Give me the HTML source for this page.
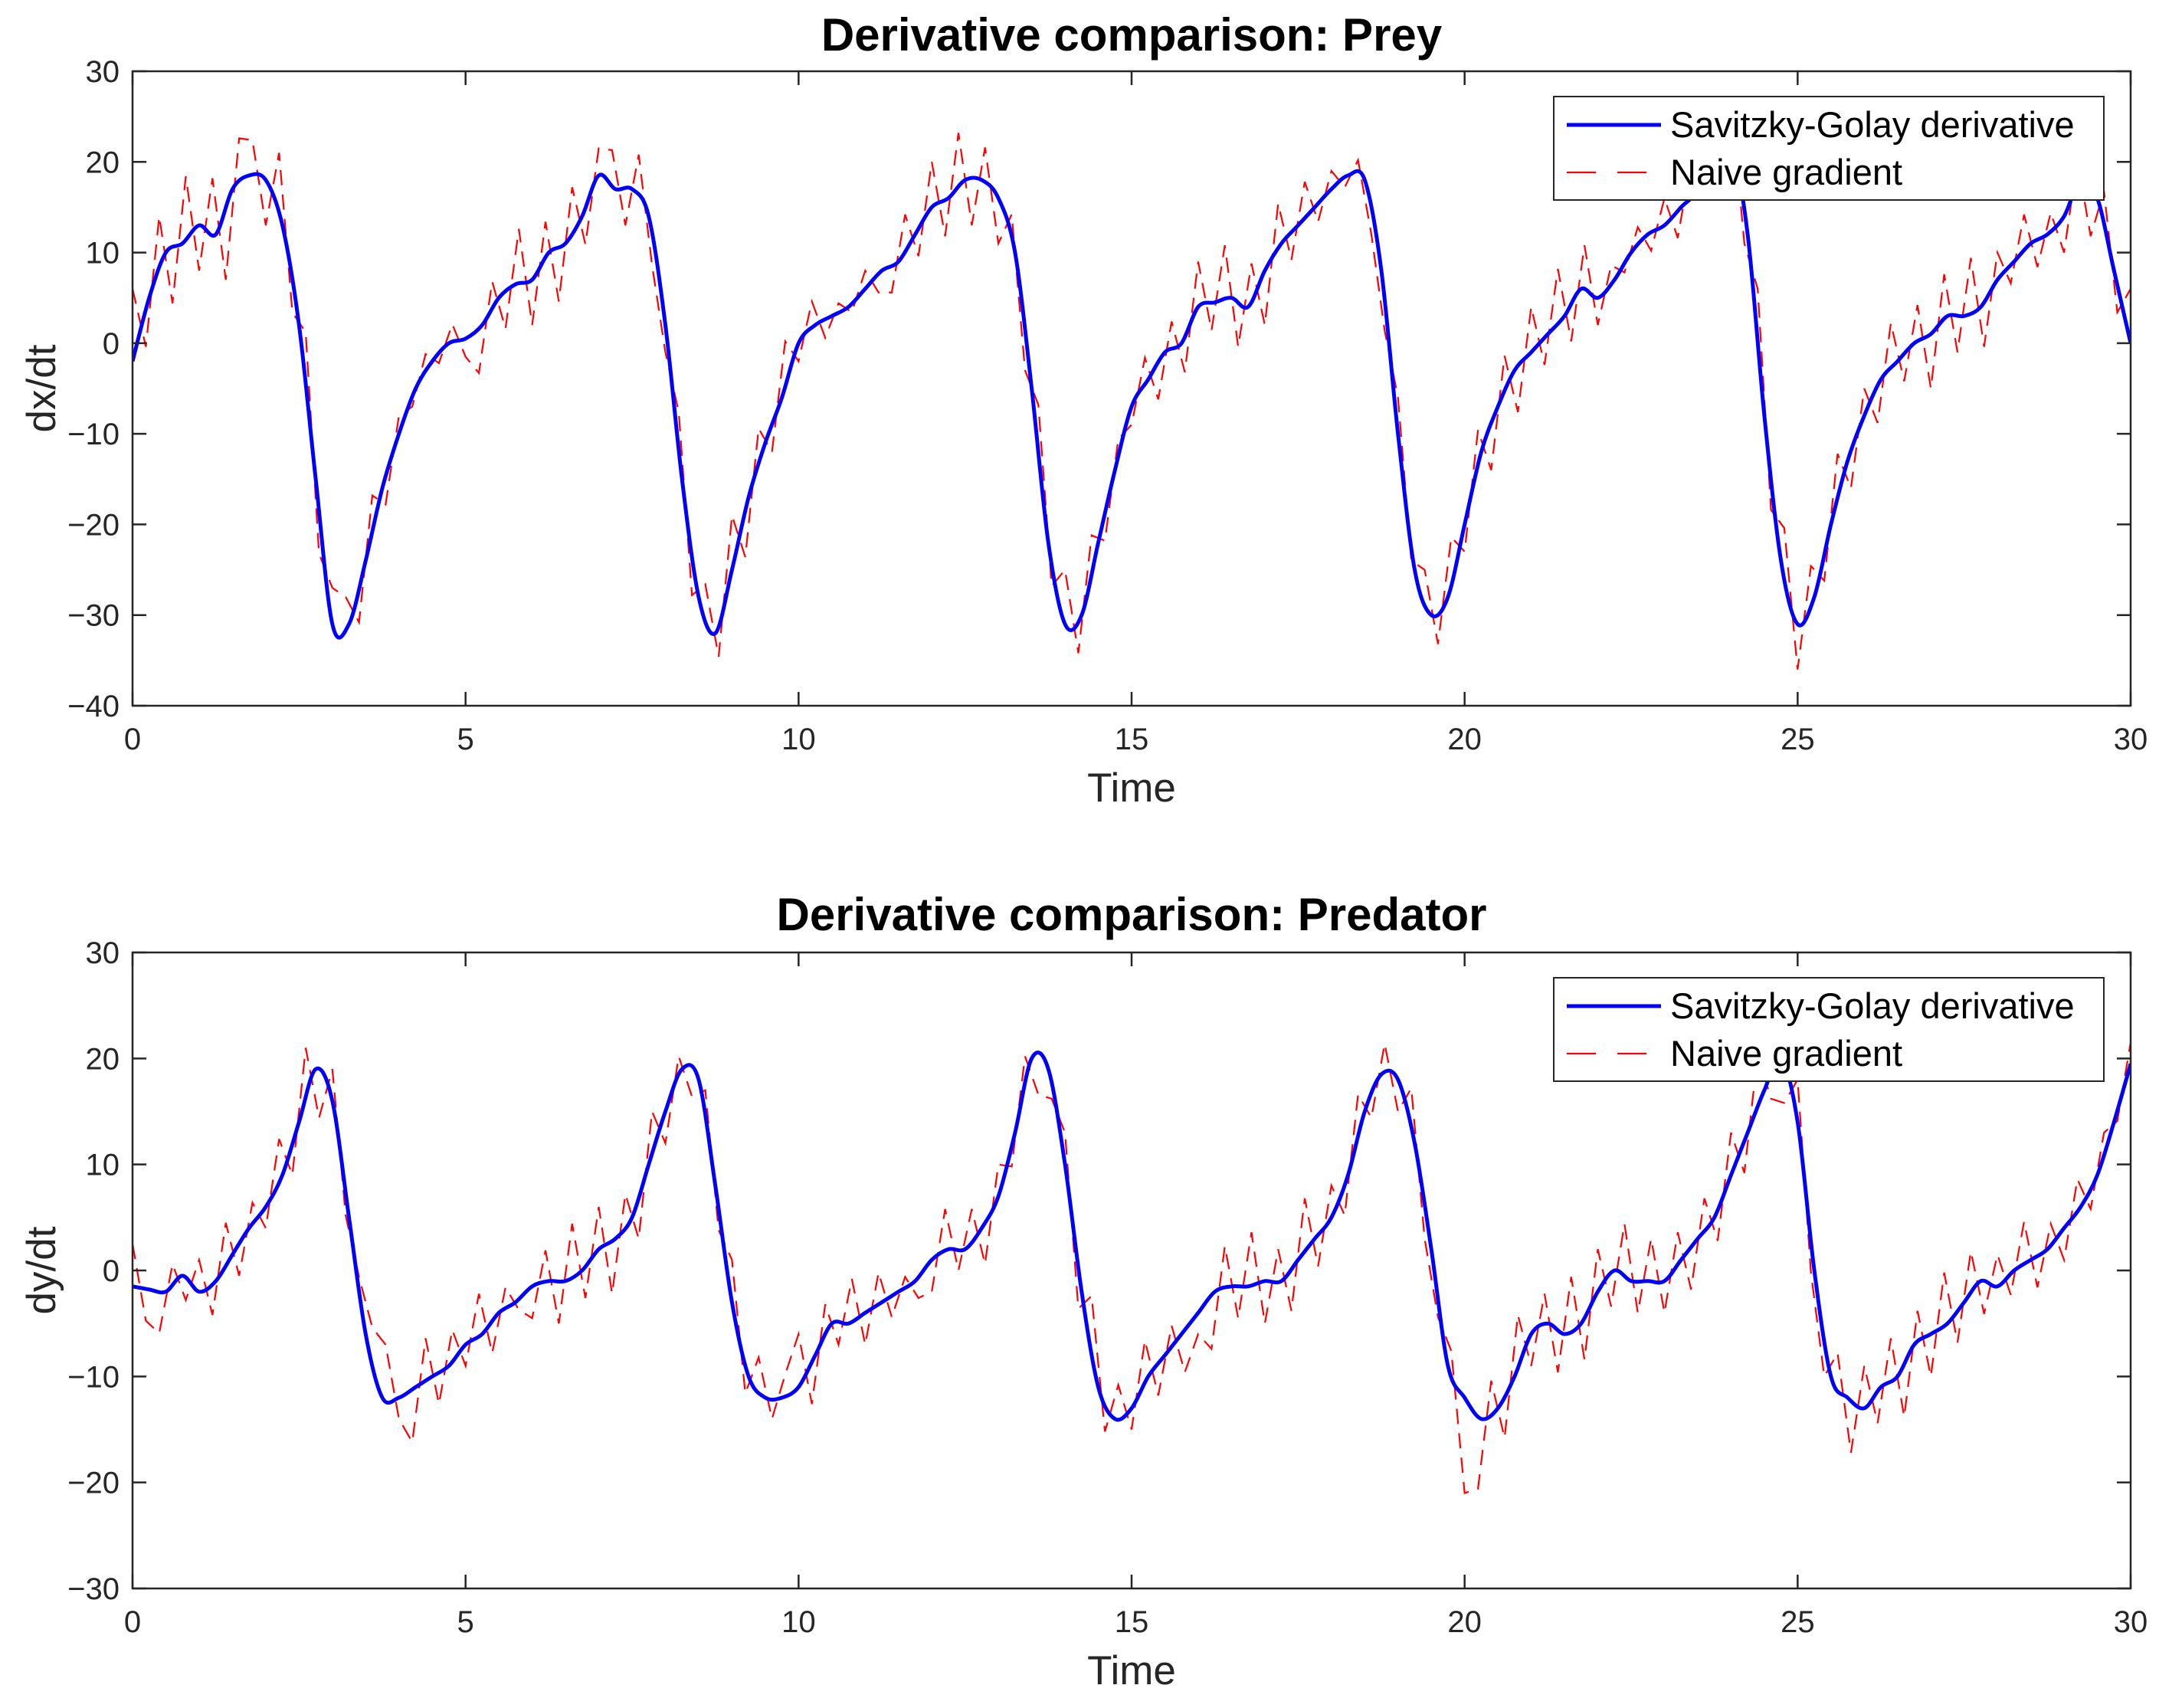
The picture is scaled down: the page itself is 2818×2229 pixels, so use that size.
<!DOCTYPE html>
<html><head><meta charset="utf-8"><style>
html,body{margin:0;padding:0;background:#fff;}
svg{display:block;font-family:"Liberation Sans",Arial,sans-serif;}
</style></head><body>
<svg id="fig" width="2818" height="2229" viewBox="0 0 2818 2229" xmlns="http://www.w3.org/2000/svg">
<rect width="2818" height="2229" fill="#fff"/>
<g id="p1"></g>
<g id="p2"></g>
</svg>
<script>
const xTicks = [0,5,10,15,20,25,30];
const preyYTicks = [-40,-30,-20,-10,0,10,20,30];
const predYTicks = [-30,-20,-10,0,10,20,30];
const sgTimeStep = 0.25;
const preySG = [-2,5,10,11,13,12,17,18.5,18,13,2,-15,-31,-31,-24,-16,-10,-5,-2,0,0.5,2,5,6.5,7,10,11,14,18.5,17,17,14,2,-15,-28,-32,-25,-17,-11,-6,0,2,3,4,6,8,9,12,15,16,18,18,16,10,-5,-22,-31,-30,-22,-14,-7,-4,-1,0,4,4.5,5,4,8,11,13,15,17,18.5,18,8,-10,-25,-30,-28,-20,-12,-7,-3,-1,1,3,6,5,7,10,12,13,15,17,22,22,12,-8,-24,-31,-28,-20,-13,-8,-4,-2,0,1,3,3,4,7,9,11,12,14,18,16,8,0];
const predSG = [-1.5,-1.8,-2,-0.5,-2,-1,1.5,4,6,9,14,19,16,5,-6,-12,-12,-11,-10,-9,-7,-6,-4,-3,-1.5,-1,-1,0,2,3,5,10,15,19,18,8,-3,-10,-12,-12,-11,-8,-5,-5,-4,-3,-2,-1,1,2,2,4,7,13,20,19,10,-2,-11,-14,-13,-10,-8,-6,-4,-2,-1.5,-1.5,-1,-1,1,3,5,9,15,18.5,18,12,2,-9,-12,-14,-13,-10,-6,-5,-6,-5,-2,0,-1,-1,-1,1,3,5,9,13,17,20,14,0,-10,-12,-13,-11,-10,-7,-6,-5,-3,-1,-1.5,0,1,2,4,6,9,14,19.5];
const naiveTimeStep = 0.2;
const preyNaiveDev = [8,-4,6,-6,7,-5,6,-8,5,4,-5,7,-3,6,-5,4,3,-4,4,-3,2,-1,2,-1,2,-2,-5,3,-4,6,-5,4,-6,5,-4,3,4,-4,5,-3,-3,4,-5,3,-4,6,-5,4,-3,5,-2,3,-2,1,-1,2,-2,-3,4,-3,5,-4,6,-5,4,-5,3,-4,5,-3,6,-4,4,-3,2,-2,3,-4,3,-4,5,-3,6,-5,4,-6,5,-3,4,-2,2,-1,2,-2,-3,4,-2,3,-4,5,-3,4,-5,4,-5,5,-3,6,-4,5,-3,2,-1,2,-2,3,-3,4,-3,-4,5,-3,6,-4,5,-5,4,-3,5,-4,3,-4,5,-3,4,-6,5,-4,6,-5,3,-2,4,-3,2,-4,3,-5,4,-3,6,-4,5,-2];
const predNaiveDev = [4,-3,-4,2,-2,3,-3,4,-3,2,-2,4,-3,5,-4,3,-2,1,3,5,-2,-5,4,-3,3,-2,4,-3,2,-1,-3,3,-4,5,-3,4,-5,3,-4,4,-3,2,-2,3,-2,4,-3,3,-2,2,5,-4,3,-2,4,-3,3,-2,1,-2,-3,4,-2,3,-4,3,-2,3,-3,-1,3,-4,5,-3,3,-2,4,-3,2,-4,-2,-5,4,-3,5,-4,3,-4,5,-3,3,-3,4,-2,3,-3,4,-3,-2,2,-9,-7,3,-4,5,-3,3,-4,5,-4,4,-3,5,-3,4,-3,3,-4,3,-3,4,-3,5,-2,-3,4,-3,-4,3,-5,4,-3,4,-5,3,-4,5,-3,4,-3,3,-2,4,-3,2,-3,3,-2,2,-1,2];

const NS='http://www.w3.org/2000/svg';
function mk(parent,tag,attrs){const e=document.createElementNS(NS,tag);for(const k in attrs)e.setAttribute(k,attrs[k]);parent.appendChild(e);return e;}
function interp(arr,step,t){const f=t/step;const i=Math.min(Math.floor(f),arr.length-2);const r=f-i;return arr[i]*(1-r)+arr[i+1]*r;}
function smoothPath(pts){
  let d='M'+pts[0][0].toFixed(1)+','+pts[0][1].toFixed(1);
  for(let i=0;i<pts.length-1;i++){
    const p0=pts[Math.max(i-1,0)],p1=pts[i],p2=pts[i+1],p3=pts[Math.min(i+2,pts.length-1)];
    const c1=[p1[0]+(p2[0]-p0[0])/6,p1[1]+(p2[1]-p0[1])/6];
    const c2=[p2[0]-(p3[0]-p1[0])/6,p2[1]-(p3[1]-p1[1])/6];
    d+='C'+c1[0].toFixed(1)+','+c1[1].toFixed(1)+' '+c2[0].toFixed(1)+','+c2[1].toFixed(1)+' '+p2[0].toFixed(1)+','+p2[1].toFixed(1);
  }
  return d;
}

function panel(g,cfg){
  const L=173,R=2781,T=cfg.top,B=cfg.bottom;
  const xs=t=>L+t*(R-L)/30;
  const ys=v=>T+(cfg.ymax-v)*(B-T)/(cfg.ymax-cfg.ymin);
  let t=mk(g,'text',{x:1477,y:cfg.titleY,'text-anchor':'middle','font-size':60,'font-weight':'bold',fill:'#000'});
  t.textContent=cfg.title;
  
  
  const cid='clip'+cfg.id;
  const defs=mk(g,'defs',{});
  const cp=mk(defs,'clipPath',{id:cid});
  mk(cp,'rect',{x:L,y:T,width:R-L,height:B-T});
  const nd=cfg.dev.map((d,i)=>{const tt=i*naiveTimeStep;return [xs(tt),ys(interp(cfg.sg,sgTimeStep,tt)+d)];});
  let p=mk(g,'path',{d:'M'+nd.map(q=>q[0].toFixed(1)+','+q[1].toFixed(1)).join('L'),fill:'none',stroke:'#ff0000','stroke-width':2.2,'stroke-dasharray':'20,12','clip-path':'url(#'+cid+')'});
  
  
  const sd=cfg.sg.map((v,i)=>[xs(i*sgTimeStep),ys(v)]);
  p=mk(g,'path',{d:smoothPath(sd),fill:'none',stroke:'#0000ff','stroke-width':5,'stroke-linejoin':'round','clip-path':'url(#'+cid+')'});
  
  
  const box=mk(g,'rect',{x:L,y:T,width:R-L,height:B-T,fill:'none',stroke:'#262626','stroke-width':2.5});
  
  
  xTicks.forEach(v=>{
    const x=xs(v);
    mk(g,'line',{x1:x,y1:B,x2:x,y2:B-18,stroke:'#262626','stroke-width':2.5});
    mk(g,'line',{x1:x,y1:T,x2:x,y2:T+18,stroke:'#262626','stroke-width':2.5});
    const tx=mk(g,'text',{x:x,y:B+57,'text-anchor':'middle','font-size':40,fill:'#262626'});
    tx.textContent=v;
    
    
  });
  cfg.yt.forEach(v=>{
    const y=ys(v);
    mk(g,'line',{x1:L,y1:y,x2:L+18,y2:y,stroke:'#262626','stroke-width':2.5});
    mk(g,'line',{x1:R,y1:y,x2:R-18,y2:y,stroke:'#262626','stroke-width':2.5});
    const tx=mk(g,'text',{x:L-17,y:y+14,'text-anchor':'end','font-size':40,fill:'#262626'});
    tx.textContent=v<0?'\u2212'+(-v):v;
    
    
  });
  let xl=mk(g,'text',{x:1477,y:B+125,'text-anchor':'middle','font-size':53,fill:'#262626'});
  xl.textContent='Time';
  
  
  const cy=(T+B)/2;
  let yl=mk(g,'text',{x:72,y:cy,'text-anchor':'middle','font-size':53,fill:'#262626',transform:'rotate(-90 72 '+cy+')'});
  yl.textContent=cfg.ylabel;
  
  
  const LY=T+33;
  const lg=mk(g,'g',{});
  
  
  mk(lg,'rect',{x:2028,y:LY,width:718,height:135,fill:'#fff',stroke:'#262626','stroke-width':2});
  mk(lg,'line',{x1:2045,y1:LY+37,x2:2168,y2:LY+37,stroke:'#0000ff','stroke-width':5});
  mk(lg,'line',{x1:2045,y1:LY+99,x2:2168,y2:LY+99,stroke:'#ff0000','stroke-width':2.2,'stroke-dasharray':'38,28'});
  let l1=mk(lg,'text',{x:2180,y:LY+53,'font-size':47,fill:'#000'});
  l1.textContent='Savitzky-Golay derivative';
  
  
  let l2=mk(lg,'text',{x:2180,y:LY+115,'font-size':47,fill:'#000'});
  l2.textContent='Naive gradient';
  
  
}
panel(document.getElementById('p1'),{id:1,top:93,bottom:921,ymin:-40,ymax:30,yt:preyYTicks,sg:preySG,dev:preyNaiveDev,title:'Derivative comparison: Prey',titleY:66,ylabel:'dx/dt'});
panel(document.getElementById('p2'),{id:2,top:1243,bottom:2073,ymin:-30,ymax:30,yt:predYTicks,sg:predSG,dev:predNaiveDev,title:'Derivative comparison: Predator',titleY:1214,ylabel:'dy/dt'});
</script>
</body></html>
